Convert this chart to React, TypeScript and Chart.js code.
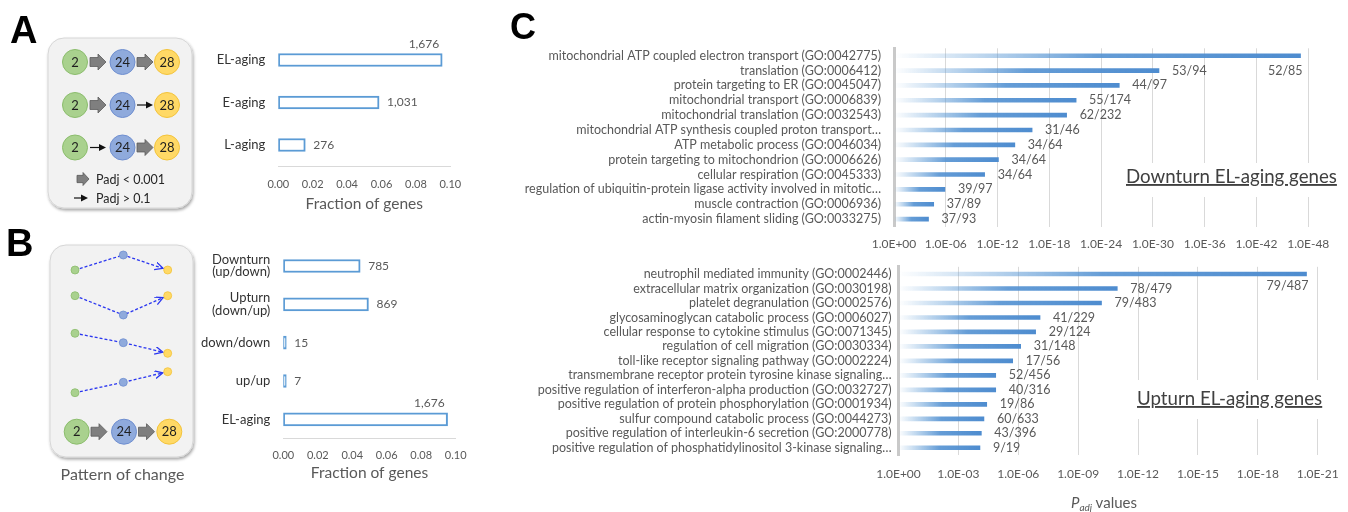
import React, { useEffect, useRef } from 'react';
import { Chart, registerables } from 'chart.js';

Chart.register(...registerables);

const FONT = "Lato, 'Liberation Sans', sans-serif";
Chart.defaults.font.family = FONT;

const GREY_TEXT = '#595959';
const DARK_TEXT = '#333333';
const BAR_BLUE = '#5b9bd5';

// ---------- Panel A: fraction of genes per aging class ----------
const agingCategories = ['EL-aging', 'E-aging', 'L-aging'];
const agingFractions = [0.0953, 0.0586, 0.0157];
const agingCounts = ['1,676', '1,031', '276'];

// ---------- Panel B: fraction of genes per pattern of change ----------
const patternCategories: (string | string[])[] = [
  ['Downturn', '(up/down)'],
  ['Upturn', '(down/up)'],
  'down/down',
  'up/up',
  'EL-aging',
];
const patternFractions = [0.0446, 0.0494, 0.00085, 0.0004, 0.0953];
const patternCounts = ['785', '869', '15', '7', '1,676'];

const fractionMax = 0.1;
const fractionStep = 0.02;

// ---------- Panel C (top): downturn EL-aging genes, -log10(Padj) ----------
const downturnTerms = [
  'mitochondrial ATP coupled electron transport (GO:0042775)',
  'translation (GO:0006412)',
  'protein targeting to ER (GO:0045047)',
  'mitochondrial transport (GO:0006839)',
  'mitochondrial translation (GO:0032543)',
  'mitochondrial ATP synthesis coupled proton transport…',
  'ATP metabolic process (GO:0046034)',
  'protein targeting to mitochondrion (GO:0006626)',
  'cellular respiration (GO:0045333)',
  'regulation of ubiquitin-protein ligase activity involved in mitotic…',
  'muscle contraction (GO:0006936)',
  'actin-myosin filament sliding (GO:0033275)',
];
const downturnNegLogP = [47.1, 30.7, 26.1, 21.1, 20.0, 16.0, 14.0, 12.1, 10.5, 5.9, 4.6, 4.0];
const downturnRatios = ['52/85', '53/94', '44/97', '55/174', '62/232', '31/46', '34/64', '34/64', '34/64', '39/97', '37/89', '37/93'];
const downturnAxisMax = 48;
const downturnAxisStep = 6;

// ---------- Panel C (bottom): upturn EL-aging genes, -log10(Padj) ----------
const upturnTerms = [
  'neutrophil mediated immunity (GO:0002446)',
  'extracellular matrix organization (GO:0030198)',
  'platelet degranulation (GO:0002576)',
  'glycosaminoglycan catabolic process (GO:0006027)',
  'cellular response to cytokine stimulus (GO:0071345)',
  'regulation of cell migration (GO:0030334)',
  'toll-like receptor signaling pathway (GO:0002224)',
  'transmembrane receptor protein tyrosine kinase signaling…',
  'positive regulation of interferon-alpha production (GO:0032727)',
  'positive regulation of protein phosphorylation (GO:0001934)',
  'sulfur compound catabolic process (GO:0044273)',
  'positive regulation of interleukin-6 secretion (GO:2000778)',
  'positive regulation of phosphatidylinositol 3-kinase signaling…',
];
const upturnNegLogP = [20.44, 10.96, 10.17, 7.09, 6.87, 6.12, 5.72, 4.87, 4.87, 4.42, 4.28, 4.15, 4.08];
const upturnRatios = ['79/487', '78/479', '79/483', '41/229', '29/124', '31/148', '17/56', '52/456', '40/316', '19/86', '60/633', '43/396', '9/19'];
const upturnAxisMax = 21;
const upturnAxisStep = 3;

// ---------- plugins ----------
type LabelOpts = {
  labels: string[];
  font: string;
  color: string;
  gap: number;
  overflowDx: number;
  overflowDy: number;
};

function makeBarLabels(o: LabelOpts) {
  return {
    id: 'barLabels',
    afterDatasetsDraw(chart: any) {
      const { ctx, chartArea } = chart;
      const meta = chart.getDatasetMeta(0);
      ctx.save();
      ctx.font = o.font;
      ctx.fillStyle = o.color;
      ctx.textBaseline = 'middle';
      meta.data.forEach((bar: any, i: number) => {
        const text = o.labels[i];
        const w = ctx.measureText(text).width;
        const x = bar.x + o.gap;
        if (x + w > chartArea.right) {
          ctx.textAlign = 'right';
          ctx.fillText(text, bar.x + o.overflowDx, bar.y + o.overflowDy);
        } else {
          ctx.textAlign = 'left';
          ctx.fillText(text, x, bar.y);
        }
      });
      ctx.restore();
    },
  };
}

const fixHeight = (h: number) => (s: any) => {
  s.height = h;
  s.paddingLeft = 0;
  s.paddingRight = 0;
};
const fixWidth = (w: number) => (s: any) => {
  s.width = w;
  s.paddingTop = 0;
  s.paddingBottom = 0;
};

function fractionConfig(
  categories: (string | string[])[],
  values: number[],
  counts: string[],
  layout: { yWidth: number; padTop: number; padRight: number; xHeight: number; tickPad: number; titlePad: number }
): any {
  return {
    type: 'bar',
    data: {
      labels: categories,
      datasets: [
        {
          data: values,
          backgroundColor: '#ffffff',
          borderColor: BAR_BLUE,
          borderWidth: 2,
          borderSkipped: false,
          barThickness: 13,
          minBarLength: 3,
        },
      ],
    },
    options: {
      indexAxis: 'y',
      animation: false,
      responsive: false,
      layout: { padding: { top: layout.padTop, right: layout.padRight, left: 0, bottom: 0 } },
      plugins: { legend: { display: false }, tooltip: { enabled: false } },
      scales: {
        x: {
          min: 0,
          max: fractionMax,
          ticks: {
            stepSize: fractionStep,
            callback: (v: number) => Number(v).toFixed(2),
            font: { size: 11 },
            color: GREY_TEXT,
            padding: layout.tickPad,
            maxRotation: 0,
          },
          grid: { display: false, drawTicks: false },
          border: { display: true, color: '#d9d9d9', width: 1 },
          title: {
            display: true,
            text: 'Fraction of genes',
            font: { size: 15.5 },
            color: GREY_TEXT,
            padding: { top: 0, bottom: layout.titlePad },
          },
          afterFit: fixHeight(layout.xHeight),
        },
        y: {
          ticks: { font: { size: 13, lineHeight: 0.95 }, color: DARK_TEXT, padding: 13, autoSkip: false },
          grid: { display: false, drawTicks: false },
          border: { display: false },
          afterFit: fixWidth(layout.yWidth),
        },
      },
    },
    plugins: [
      makeBarLabels({
        labels: counts,
        font: `12px ${FONT}`,
        color: GREY_TEXT,
        gap: 8,
        overflowDx: -3,
        overflowDy: -16,
      }),
    ],
  };
}

function enrichmentConfig(
  terms: string[],
  values: number[],
  ratios: string[],
  axisMax: number,
  axisStep: number,
  layout: { yWidth: number; padTop: number; padRight: number; xHeight: number; tickPad: number; yPad: number; overflowDy: number }
): any {
  return {
    type: 'bar',
    data: {
      labels: terms,
      datasets: [
        {
          data: values,
          barThickness: 4,
          borderWidth: 0,
          backgroundColor: (c: any) => {
            const chart = c.chart;
            const xs = chart.scales && chart.scales.x;
            if (!chart.chartArea || !xs || typeof c.raw !== 'number') return BAR_BLUE;
            const x0 = xs.getPixelForValue(0);
            const x1 = xs.getPixelForValue(c.raw);
            const g = chart.ctx.createLinearGradient(x0, 0, x1, 0);
            g.addColorStop(0, 'rgba(91,155,213,0)');
            g.addColorStop(0.5, 'rgba(84,146,210,0.9)');
            g.addColorStop(1, 'rgba(78,140,207,1)');
            return g;
          },
        },
      ],
    },
    options: {
      indexAxis: 'y',
      animation: false,
      responsive: false,
      layout: { padding: { top: layout.padTop, right: layout.padRight, left: 0, bottom: 0 } },
      plugins: { legend: { display: false }, tooltip: { enabled: false } },
      scales: {
        x: {
          min: 0,
          max: axisMax,
          ticks: {
            stepSize: axisStep,
            callback: (v: number) => (v === 0 ? '1.0E+00' : '1.0E-' + String(Math.round(v)).padStart(2, '0')),
            font: { size: 12 },
            color: GREY_TEXT,
            padding: layout.tickPad,
            maxRotation: 0,
            autoSkip: false,
          },
          grid: { display: true, color: '#d9d9d9', lineWidth: 1, drawTicks: false },
          border: { display: false },
          afterFit: fixHeight(layout.xHeight),
        },
        y: {
          ticks: { font: { size: 12.5 }, color: GREY_TEXT, padding: layout.yPad, autoSkip: false },
          grid: { display: false, drawTicks: false },
          border: { display: true, color: '#c9c9c9', width: 3 },
          afterFit: fixWidth(layout.yWidth),
        },
      },
    },
    plugins: [
      makeBarLabels({
        labels: ratios,
        font: `12.5px ${FONT}`,
        color: GREY_TEXT,
        gap: 13,
        overflowDx: 2,
        overflowDy: layout.overflowDy,
      }),
    ],
  };
}

function ChartCanvas({ left, top, width, height, build }: { left: number; top: number; width: number; height: number; build: () => any }) {
  const ref = useRef<HTMLCanvasElement>(null);
  useEffect(() => {
    if (!ref.current) return;
    const chart = new Chart(ref.current, build());
    return () => chart.destroy();
  }, []);
  return (
    <canvas
      ref={ref}
      width={width}
      height={height}
      style={{ position: 'absolute', left, top, width, height }}
    />
  );
}

// ---------- schematic diagrams ----------
const dotColors: Record<string, { fill: string; stroke: string }> = {
  green: { fill: '#a9d18e', stroke: '#8bbd6c' },
  blue: { fill: '#8faadc', stroke: '#6e8ed0' },
  orange: { fill: '#ffd966', stroke: '#f3c33a' },
};

function BigCircle({ cx, cy, kind, label }: { cx: number; cy: number; kind: string; label: string }) {
  const c = dotColors[kind];
  return (
    <g>
      <circle cx={cx} cy={cy} r={12.5} fill={c.fill} stroke={c.stroke} strokeWidth={1} />
      <text x={cx} y={cy + 4.5} textAnchor="middle" fontSize={13} fill="#1f1f1f" fontFamily={FONT}>
        {label}
      </text>
    </g>
  );
}

function BlockArrow({ x, cy, len = 16, h = 16 }: { x: number; cy: number; len?: number; h?: number }) {
  const s = h * 0.28;
  const mid = x + len / 2;
  const d = `M${x},${cy - s} H${mid} V${cy - h / 2} L${x + len},${cy} L${mid},${cy + h / 2} V${cy + s} H${x} Z`;
  return <path d={d} fill="#7f7f7f" stroke="#5a5a5a" strokeWidth={0.8} />;
}

function ThinArrow({ x, cy, len = 16 }: { x: number; cy: number; len?: number }) {
  return (
    <g>
      <line x1={x} y1={cy} x2={x + len - 6} y2={cy} stroke="#111" strokeWidth={1.2} />
      <path d={`M${x + len - 7},${cy - 3.5} L${x + len},${cy} L${x + len - 7},${cy + 3.5} Z`} fill="#111" />
    </g>
  );
}

function TimeRow({ cy, first, second }: { cy: number; first: string; second: string }) {
  const xs = [75, 122.5, 167];
  return (
    <g>
      {first === 'block' ? <BlockArrow x={90} cy={cy} /> : <ThinArrow x={90} cy={cy} />}
      {second === 'block' ? <BlockArrow x={137} cy={cy} /> : <ThinArrow x={137} cy={cy} />}
      <BigCircle cx={xs[0]} cy={cy} kind="green" label="2" />
      <BigCircle cx={xs[1]} cy={cy} kind="blue" label="24" />
      <BigCircle cx={xs[2]} cy={cy} kind="orange" label="28" />
    </g>
  );
}

const patternShapes: number[][][] = [
  [[75, 270], [123.3, 255], [167.7, 270]],
  [[75, 295.7], [123.3, 315], [167.7, 295.7]],
  [[75, 333.3], [123.3, 342.7], [167.7, 353.3]],
  [[75, 392.7], [123.3, 382.3], [167.7, 371.7]],
];

function PatternRow({ pts }: { pts: number[][] }) {
  const [a, b, c] = pts;
  const dx = c[0] - b[0];
  const dy = c[1] - b[1];
  const L = Math.hypot(dx, dy);
  const ex = c[0] - (dx / L) * 5;
  const ey = c[1] - (dy / L) * 5;
  const kinds = ['green', 'blue', 'orange'];
  return (
    <g>
      <polyline
        points={`${a[0]},${a[1]} ${b[0]},${b[1]} ${ex},${ey}`}
        fill="none"
        stroke="#2a36f0"
        strokeWidth={1.3}
        strokeDasharray="3 2"
        markerEnd="url(#openArrow)"
      />
      {pts.map((p, i) => (
        <circle key={i} cx={p[0]} cy={p[1]} r={4} fill={dotColors[kinds[i]].fill} stroke={dotColors[kinds[i]].stroke} strokeWidth={0.8} />
      ))}
    </g>
  );
}

function Overlay() {
  return (
    <svg
      width={1348}
      height={512}
      style={{ position: 'absolute', left: 0, top: 0, pointerEvents: 'none' }}
      fontFamily={FONT}
    >
      <defs>
        <filter id="shadow" x="-10%" y="-10%" width="130%" height="130%">
          <feDropShadow dx="1" dy="2" stdDeviation="1.8" floodColor="#000" floodOpacity="0.35" />
        </filter>
        <marker id="openArrow" markerWidth="10" markerHeight="10" refX="8" refY="4" orient="auto" markerUnits="userSpaceOnUse">
          <path d="M0,0 L8,4 L0,8" fill="none" stroke="#2a36f0" strokeWidth="1.3" />
        </marker>
      </defs>

      {/* panel letters */}
      <text x={10} y={43} fontSize={38} fontWeight="bold" fontFamily="'Liberation Sans', Arial, sans-serif" fill="#000">A</text>
      <text x={6} y={256} fontSize={38} fontWeight="bold" fontFamily="'Liberation Sans', Arial, sans-serif" fill="#000">B</text>
      <text x={510} y={39} fontSize={36} fontWeight="bold" fontFamily="'Liberation Sans', Arial, sans-serif" fill="#000">C</text>

      {/* panel A schematic */}
      <rect x={48} y={38} width={144} height={170} rx={16} fill="#f2f2f2" stroke="#d6d6d6" strokeWidth={1} filter="url(#shadow)" />
      <TimeRow cy={62} first="block" second="block" />
      <TimeRow cy={105} first="block" second="thin" />
      <TimeRow cy={147.5} first="thin" second="block" />
      <BlockArrow x={77} cy={179} len={12} h={13} />
      <text x={96} y={183.5} fontSize={12.5} fill="#262626">Padj &lt; 0.001</text>
      <ThinArrow x={74} cy={198} len={14} />
      <text x={96} y={202.5} fontSize={12.5} fill="#262626">Padj &gt; 0.1</text>

      {/* panel B schematic */}
      <rect x={50} y={245} width={143} height={212} rx={16} fill="#f2f2f2" stroke="#d6d6d6" strokeWidth={1} filter="url(#shadow)" />
      {patternShapes.map((pts, i) => (
        <PatternRow key={i} pts={pts} />
      ))}
      <BlockArrow x={91} cy={431.7} />
      <BlockArrow x={138.5} cy={431.7} />
      <BigCircle cx={76.7} cy={431.7} kind="green" label="2" />
      <BigCircle cx={124} cy={431.7} kind="blue" label="24" />
      <BigCircle cx={169.3} cy={431.7} kind="orange" label="28" />
      <text x={122.5} y={480} fontSize={16} textAnchor="middle" fill={GREY_TEXT}>Pattern of change</text>

      {/* panel C captions */}
      <rect x={1118} y={163} width={228} height={34} fill="#ffffff" />
      <text x={1126} y={183} fontSize={18.7} fill="#404040" style={{ textDecoration: 'underline' }}>Downturn EL-aging genes</text>
      <rect x={1130} y={380} width={200} height={39} fill="#ffffff" />
      <text x={1137} y={405} fontSize={18.7} fill="#404040" style={{ textDecoration: 'underline' }}>Upturn EL-aging genes</text>

      <text x={1071} y={508} fontSize={15} fill={GREY_TEXT}>
        <tspan fontStyle="italic">P</tspan>
        <tspan fontStyle="italic" fontSize={10} dy={3}>adj</tspan>
        <tspan dy={-3}> values</tspan>
      </text>
    </svg>
  );
}

export default function App() {
  return (
    <div style={{ position: 'absolute', left: 0, top: 0, width: 1348, height: 512, background: '#ffffff', overflow: 'hidden' }}>
      <ChartCanvas
        left={190}
        top={30}
        width={290}
        height={190}
        build={() =>
          fractionConfig(agingCategories, agingFractions, agingCounts, {
            yWidth: 88.3,
            padTop: 8.75,
            padRight: 29.7,
            xHeight: 53.75,
            tickPad: 12,
            titlePad: 6.5,
          })
        }
      />
      <ChartCanvas
        left={190}
        top={238}
        width={290}
        height={252}
        build={() =>
          fractionConfig(patternCategories, patternFractions, patternCounts, {
            yWidth: 93.3,
            padTop: 8.8,
            padRight: 24.3,
            xHeight: 51.5,
            tickPad: 10,
            titlePad: 7.4,
          })
        }
      />
      <ChartCanvas
        left={500}
        top={38}
        width={848}
        height={222}
        build={() =>
          enrichmentConfig(downturnTerms, downturnNegLogP, downturnRatios, downturnAxisMax, downturnAxisStep, {
            yWidth: 394,
            padTop: 10.3,
            padRight: 39.7,
            xHeight: 33.5,
            tickPad: 10,
            yPad: 13,
            overflowDy: 15,
          })
        }
      />
      <ChartCanvas
        left={500}
        top={258}
        width={848}
        height={222}
        build={() =>
          enrichmentConfig(upturnTerms, upturnNegLogP, upturnRatios, upturnAxisMax, upturnAxisStep, {
            yWidth: 398.5,
            padTop: 8.8,
            padRight: 30.3,
            xHeight: 25,
            tickPad: 11.5,
            yPad: 7,
            overflowDy: 12,
          })
        }
      />
      <Overlay />
    </div>
  );
}
